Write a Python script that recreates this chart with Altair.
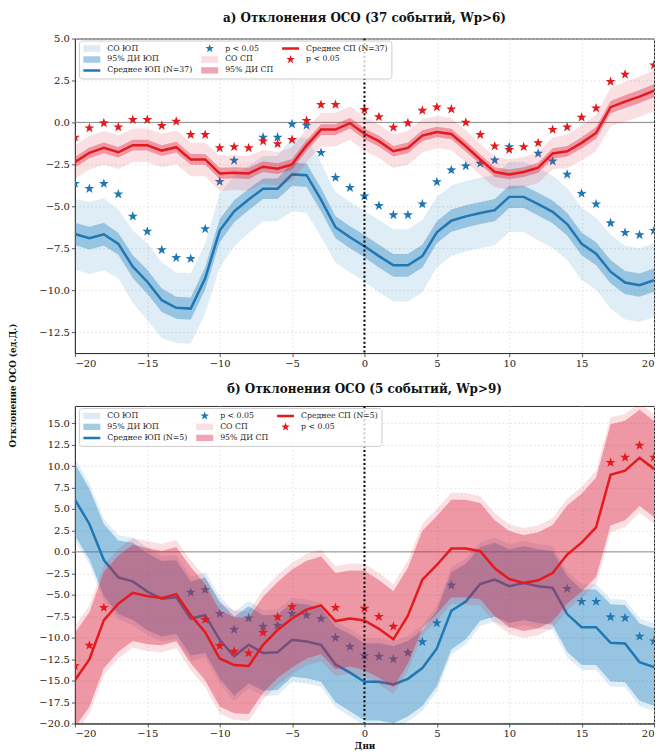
import math
import altair as alt
import pandas as pd

# ---------------- data ----------------
days = list(range(-20, 21))

# panel a: 37 events, Wp>6
a_blue_mean = [-6.65, -6.9, -6.67, -7.24, -8.6, -9.5, -10.6, -11.05, -11.1, -9.3,
               -6.45, -5.3, -4.6, -3.95, -3.95, -3.1, -3.15, -4.6, -6.25, -6.85,
               -7.38,
               -7.97, -8.52, -8.52, -7.97, -6.55, -5.86, -5.6, -5.4, -5.23, -4.44,
               -4.44, -4.87, -5.33, -6.06, -7.24, -7.83, -8.9, -9.55, -9.7, -9.4]
a_blue_sd = [2.10, 2.15, 2.15, 2.05, 2.15, 2.30, 2.25, 2.10, 2.10, 2.10,
             2.20, 2.10, 2.00, 1.95, 1.95, 2.20, 2.25, 2.20, 2.10, 2.10,
             2.10,
             2.15, 2.15, 2.15, 2.15, 2.10, 2.10, 2.10, 2.10, 2.10, 2.10,
             2.10, 2.15, 2.15, 2.15, 2.15, 2.15, 2.20, 2.20, 2.20, 2.20]
a_blue_ci = [0.66, 0.68, 0.68, 0.65, 0.68, 0.72, 0.70, 0.66, 0.66, 0.66,
             0.69, 0.66, 0.63, 0.61, 0.61, 0.69, 0.70, 0.69, 0.66, 0.66,
             0.66,
             0.68, 0.68, 0.68, 0.68, 0.66, 0.66, 0.66, 0.66, 0.66, 0.66,
             0.66, 0.68, 0.68, 0.68, 0.68, 0.68, 0.69, 0.69, 0.69, 0.69]
a_red_mean = [-2.37, -1.81, -1.52, -1.78, -1.36, -1.36, -1.68, -1.48, -2.21, -2.21,
              -3.04, -3.0, -3.04, -2.64, -2.76, -2.5, -1.38, -0.43, -0.43, -0.04,
              -0.68,
              -1.12, -1.72, -1.52, -0.79, -0.57, -0.69, -1.42, -2.21, -2.96, -3.1,
              -2.96, -2.7, -1.85, -1.72, -1.22, -0.63, 0.91, 1.24, 1.54, 1.89]
a_red_sd = [1.00, 1.00, 1.00, 1.00, 1.00, 1.00, 1.00, 1.00, 1.00, 1.00,
            1.03, 1.03, 1.03, 1.00, 1.00, 1.00, 1.00, 1.00, 1.00, 1.00,
            1.00,
            1.00, 1.00, 1.00, 1.00, 0.95, 0.95, 0.95, 0.92, 0.90, 0.90,
            0.90, 0.92, 0.95, 1.00, 1.05, 1.08, 1.15, 1.18, 1.20, 1.22]
a_red_ci = [0.32, 0.32, 0.32, 0.32, 0.32, 0.32, 0.32, 0.32, 0.32, 0.32,
            0.33, 0.33, 0.33, 0.32, 0.32, 0.32, 0.32, 0.32, 0.32, 0.32,
            0.32,
            0.32, 0.32, 0.32, 0.32, 0.31, 0.31, 0.31, 0.30, 0.29, 0.29,
            0.29, 0.30, 0.31, 0.32, 0.34, 0.35, 0.37, 0.38, 0.39, 0.39]
a_blue_star_days = [-20, -19, -18, -17, -16, -15, -14, -13, -12, -11, -10, -9, -7, -6, -5,
                    -4, -3, -2, -1, 0, 1, 2, 3, 4, 5, 6, 7, 8, 9, 10, 12, 13, 14, 15,
                    16, 17, 18, 19, 20]
a_blue_star_vals = [-3.65, -3.95, -3.65, -4.28, -5.6, -6.5, -7.6, -8.07, -8.13, -6.35,
                    -3.53, -2.27, -0.89, -0.89, -0.1, -0.18, -1.81, -3.29, -3.89, -4.4,
                    -4.97, -5.52, -5.52, -4.87, -3.55, -2.84, -2.6, -2.45, -2.25, -1.46,
                    -1.85, -2.31, -3.1, -4.24, -4.87, -6.0, -6.57, -6.71, -6.45]
a_red_star_days = [-20, -19, -18, -17, -16, -15, -14, -13, -12, -11, -10, -9, -8, -7, -6,
                   -5, -4, -3, -2, 0, 1, 2, 3, 4, 5, 6, 7, 8, 9, 10, 11, 12, 13, 14,
                   15, 16, 17, 18, 20]
a_red_star_vals = [-0.89, -0.34, -0.04, -0.28, 0.16, 0.16, -0.2, 0.06, -0.73, -0.73,
                   -1.52, -1.46, -1.52, -1.12, -1.28, -1.03, 0.1, 1.06, 1.06, 0.75,
                   0.33, -0.3, -0.04, 0.71, 0.91, 0.79, 0.0, -0.73, -1.42, -1.62,
                   -1.46, -1.22, -0.43, -0.28, 0.3, 0.85, 2.43, 2.86, 3.41]

# panel b: 5 events, Wp>9
b_blue_mean = [6.08, 3.25, -0.96, -2.98, -3.44, -4.63, -5.47, -5.28, -7.77, -7.38,
               -10.25, -12.17, -10.83, -11.78, -11.7, -10.25, -10.44, -10.83, -13.12, -14.08,
               -15.15,
               -15.15, -15.46, -14.8, -13.55, -11.26, -6.87, -5.8, -3.74, -3.24, -4.0,
               -3.63, -4.0, -4.2, -7.25, -8.78, -8.78, -10.6, -10.69, -12.86, -13.44]
b_blue_ci = [4.2, 4.1, 4.2, 4.3, 4.5, 4.5, 4.4, 4.3, 4.3, 4.4,
             4.5, 4.6, 4.5, 4.4, 4.4, 4.3, 4.3, 4.3, 4.4, 4.5,
             4.5,
             4.5, 4.5, 4.4, 4.4, 4.4, 4.5, 4.4, 4.3, 4.3, 4.3,
             4.3, 4.3, 4.3, 4.4, 4.4, 4.4, 4.5, 4.5, 4.5, 4.5]
b_blue_sd = [4.8, 4.7, 4.8, 4.9, 5.1, 5.1, 5.0, 4.9, 4.9, 5.0,
             5.1, 5.2, 5.1, 5.0, 5.0, 4.9, 4.9, 4.9, 5.0, 5.1,
             5.1,
             5.1, 5.1, 5.0, 5.0, 5.0, 5.1, 5.0, 4.9, 4.9, 4.9,
             4.9, 4.9, 4.9, 5.0, 5.0, 5.0, 5.1, 5.1, 5.1, 5.1]
b_red_mean = [-14.96, -12.55, -7.96, -6.04, -4.78, -5.16, -5.39, -4.93, -7.38, -9.37,
              -12.43, -13.2, -13.31, -10.83, -9.1, -7.77, -6.73, -6.24, -8.07, -7.77,
              -8.0,
              -8.97, -10.19, -7.44, -3.24, -1.53, 0.38, 0.38, 0.08, -1.91, -3.17,
              -3.63, -3.32, -2.48, -0.31, 1.07, 2.86, 8.97, 9.47, 10.95, 9.66]
b_red_ci = [5.5, 5.5, 5.6, 5.6, 5.6, 5.6, 5.5, 5.5, 5.6, 5.6,
            5.6, 5.6, 5.6, 5.6, 5.6, 5.7, 5.7, 5.7, 5.6, 5.6,
            5.8,
            5.7, 5.6, 5.6, 5.7, 5.7, 5.7, 5.7, 5.6, 5.6, 5.6,
            5.6, 5.6, 5.6, 5.7, 5.7, 5.8, 5.9, 5.8, 5.6, 5.6]
b_red_sd = [6.3, 6.3, 6.4, 6.4, 6.4, 6.4, 6.3, 6.3, 6.4, 6.4,
            6.4, 6.4, 6.4, 6.4, 6.4, 6.5, 6.5, 6.5, 6.4, 6.4,
            6.6,
            6.5, 6.4, 6.4, 6.5, 6.5, 6.5, 6.5, 6.4, 6.4, 6.4,
            6.4, 6.4, 6.4, 6.5, 6.5, 6.6, 6.7, 6.6, 6.4, 6.4]
b_blue_star_days = [-12, -11, -10, -9, -8, -7, -6, -5, -4, -3, -2, -1, 0, 1, 2, 3, 4, 5, 6,
                    14, 15, 16, 17, 18, 19, 20]
b_blue_star_vals = [-4.73, -4.43, -7.2, -9.05, -7.72, -8.7, -8.59, -7.2, -7.37, -7.8,
                    -10.0, -11.05, -12.1, -12.2, -12.5, -11.76, -10.5, -8.3, -3.9,
                    -4.3, -5.8, -5.8, -7.6, -7.7, -9.85, -10.4]
b_red_star_days = [-20, -19, -18, -11, -10, -9, -8, -7, -6, -5, -2, 0, 1, 2, 17, 18, 19, 20]
b_red_star_vals = [-13.3, -10.9, -6.5, -7.9, -10.95, -11.6, -11.8, -9.4, -7.6, -6.4,
                   -6.5, -6.6, -7.56, -8.7, 10.4, 11.0, 12.4, 11.0]

x_ticks = [-20, -15, -10, -5, 0, 5, 10, 15, 20]
a_y_ticks = [-12.5, -10.0, -7.5, -5.0, -2.5, 0.0, 2.5, 5.0]
b_y_ticks = [-20.0, -17.5, -15.0, -12.5, -10.0, -7.5, -5.0, -2.5, 0.0, 2.5, 5.0, 7.5, 10.0, 12.5, 15.0]

# ---------------- style ----------------
FONT = "DejaVu Serif"
BLUE = "#1f78b4"
RED = "#e41a1c"
BLUE_FILL = "#2a86c0"
RED_FILL = "#dc1e3c"
SD_B_LEG = "#ddebf4"
CI_B_LEG = "#a3cbe4"
SD_R_LEG = "#fbdde3"
CI_R_LEG = "#f0a3b2"
PLOT_W = 580


def star_path(R, ratio=0.4):
    pts = []
    for i in range(10):
        ang = -math.pi / 2 + i * math.pi / 5
        rad = R if i % 2 == 0 else R * ratio
        pts.append(f"{rad * math.cos(ang):.3f},{rad * math.sin(ang):.3f}")
    return "M" + "L".join(pts) + "Z"


STAR = star_path(1.0)
LEG_STAR = star_path(1.5)
LEG_RECT = "M-2.83,-1.05L2.83,-1.05L2.83,1.05L-2.83,1.05Z"
LEG_LINE = "M-2.83,0L2.83,0"


def panel(title, n, bm, bsd, bci, rm, rsd, rci, bsdays, bsvals, rsdays, rsvals,
          ydomain, yticks, height, ytitle, xtitle):
    df = pd.DataFrame({"day": days, "bm": bm, "rm": rm})
    df["bsd_lo"] = [m - s for m, s in zip(bm, bsd)]
    df["bsd_hi"] = [m + s for m, s in zip(bm, bsd)]
    df["bci_lo"] = [m - s for m, s in zip(bm, bci)]
    df["bci_hi"] = [m + s for m, s in zip(bm, bci)]
    df["rsd_lo"] = [m - s for m, s in zip(rm, rsd)]
    df["rsd_hi"] = [m + s for m, s in zip(rm, rsd)]
    df["rci_lo"] = [m - s for m, s in zip(rm, rci)]
    df["rci_hi"] = [m + s for m, s in zip(rm, rci)]
    bstars = pd.DataFrame({"day": bsdays, "v": bsvals})
    rstars = pd.DataFrame({"day": rsdays, "v": rsvals})

    xscale = alt.Scale(domain=[-20, 20], nice=False, zero=False)
    xaxis_kw = dict(values=x_ticks, format="d")
    if xtitle:
        xaxis = alt.Axis(title=xtitle, titlePadding=3, **xaxis_kw)
    else:
        xaxis = alt.Axis(title=None, **xaxis_kw)

    yscale = alt.Scale(domain=ydomain, nice=False, zero=False)
    if ytitle:
        yaxis = alt.Axis(values=yticks, format=".1f", title=ytitle, titleX=-62, titleY=347,
                         titleAngle=270, titleAlign="center", titleBaseline="middle")
    else:
        yaxis = alt.Axis(values=yticks, format=".1f", title=None)

    def X(f):
        return alt.X(f, scale=xscale, axis=xaxis)

    def Y(f):
        return alt.Y(f, scale=yscale, axis=yaxis)

    base = alt.Chart(df)
    zero = alt.Chart(pd.DataFrame({"y": [0.0]})).mark_rule(color="#8a8a8a", strokeWidth=1).encode(y=Y("y:Q"))
    sd_b = base.mark_area(color=BLUE_FILL, opacity=0.15, clip=True).encode(x=X("day:Q"), y=Y("bsd_lo:Q"), y2="bsd_hi:Q")
    ci_b = base.mark_area(color=BLUE_FILL, opacity=0.4, clip=True).encode(x=X("day:Q"), y=Y("bci_lo:Q"), y2="bci_hi:Q")
    ln_b = base.mark_line(color=BLUE, strokeWidth=2.5, clip=True).encode(x=X("day:Q"), y=Y("bm:Q"))
    st_b = alt.Chart(bstars).mark_point(shape=STAR, filled=True, size=110, color=BLUE, opacity=1,
                                        clip=True).encode(x=X("day:Q"), y=Y("v:Q"))
    sd_r = base.mark_area(color=RED_FILL, opacity=0.14, clip=True).encode(x=X("day:Q"), y=Y("rsd_lo:Q"), y2="rsd_hi:Q")
    ci_r = base.mark_area(color=RED_FILL, opacity=0.37, clip=True).encode(x=X("day:Q"), y=Y("rci_lo:Q"), y2="rci_hi:Q")
    ln_r = base.mark_line(color=RED, strokeWidth=2.5, clip=True).encode(x=X("day:Q"), y=Y("rm:Q"))
    st_r = alt.Chart(rstars).mark_point(shape=STAR, filled=True, size=110, color=RED, opacity=1,
                                        clip=True).encode(x=X("day:Q"), y=Y("v:Q"))
    vline = alt.Chart(pd.DataFrame({"x": [0.0]})).mark_rule(color="black", strokeWidth=2,
                                                            strokeDash=[2, 2.4]).encode(x=X("x:Q"))

    # legend entries, in matplotlib's order (filled column by column, 3 columns)
    keys = ["СО ЮП", "95% ДИ ЮП", f"Среднее ЮП (N={n})",
            "p < 0.05", "СО СП", "95% ДИ СП",
            f"Среднее СП (N={n})", "p < 0.05 "]
    fills = [SD_B_LEG, CI_B_LEG, "transparent", BLUE, SD_R_LEG, CI_R_LEG, "transparent", RED]
    strokes = ["transparent", "transparent", BLUE, "transparent", "transparent", "transparent", RED, "transparent"]
    shapes = [LEG_RECT, LEG_RECT, LEG_LINE, LEG_STAR, LEG_RECT, LEG_RECT, LEG_LINE, LEG_STAR]
    leg = alt.Legend(title=None, orient="none", legendX=4, legendY=2, columns=3, columnPadding=7,
                     rowPadding=1, padding=3, symbolSize=36, symbolOffset=5.5, labelOffset=11,
                     symbolStrokeWidth=2.5, labelFont=FONT, labelFontSize=7.8, labelColor="#222",
                     labelLimit=0, strokeColor="#cccccc", fillColor="rgba(255,255,255,0.8)",
                     cornerRadius=3, gridAlign="each", clipHeight=10)
    legend_layer = alt.Chart(pd.DataFrame({"key": keys})).transform_filter("false").mark_point(
        filled=True, opacity=1, size=36, strokeWidth=2.5).encode(
        fill=alt.Fill("key:N", scale=alt.Scale(domain=keys, range=fills), legend=leg),
        stroke=alt.Stroke("key:N", scale=alt.Scale(domain=keys, range=strokes), legend=leg),
        shape=alt.Shape("key:N", scale=alt.Scale(domain=keys, range=shapes), legend=leg),
    )

    return alt.layer(zero, sd_b, ci_b, ln_b, st_b, sd_r, ci_r, ln_r, st_r, vline, legend_layer).properties(
        width=PLOT_W, height=height,
        title=alt.TitleParams(text=title, font=FONT, fontSize=12, fontWeight="bold", color="#111",
                              anchor="middle", frame="group", offset=9),
    )


top = panel("а) Отклонения ОСО (37 событий, Wp>6)", 37,
            a_blue_mean, a_blue_sd, a_blue_ci, a_red_mean, a_red_sd, a_red_ci,
            a_blue_star_days, a_blue_star_vals, a_red_star_days, a_red_star_vals,
            [-13.75, 5.0], a_y_ticks, 315, "Отклонение ОСО (ед.Д.)", None)
bottom = panel("б) Отклонения ОСО (5 событий, Wp>9)", 5,
               b_blue_mean, b_blue_sd, b_blue_ci, b_red_mean, b_red_sd, b_red_ci,
               b_blue_star_days, b_blue_star_vals, b_red_star_days, b_red_star_vals,
               [-20.0, 17.0], b_y_ticks, 318, None, "Дни")

chart = alt.vconcat(top, bottom, spacing=53, bounds="flush").resolve_scale(
    fill="independent", stroke="independent", shape="independent"
).resolve_legend(
    fill="independent", stroke="independent", shape="independent"
).properties(
    padding={"left": 0, "top": 2, "right": 0, "bottom": 0}
).configure(background="white").configure_axis(
    labelFont=FONT, labelFontSize=10, labelColor="#222",
    titleFont=FONT, titleFontSize=8.8, titleFontWeight="bold", titleColor="#111",
    tickColor="#333", tickSize=3.5, tickWidth=0.8, domainColor="#333", labelPadding=2,
    grid=True, gridColor="#d6d6d6", gridDash=[1.5, 2.5], gridWidth=0.8,
).configure_view(stroke="#333", strokeWidth=1)

chart.save("out.html", embed_options={"renderer": "svg", "actions": False})
